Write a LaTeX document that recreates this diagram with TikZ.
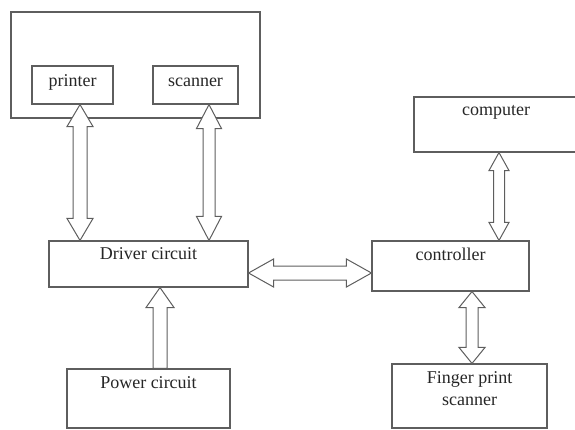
\documentclass[tikz,border=0pt]{standalone}
\usepackage{fontspec}
\setmainfont{Liberation Serif}
\usepackage{tikz}
\usetikzlibrary{positioning, calc}

\definecolor{linegray}{HTML}{5E5E5E}
\definecolor{textgray}{HTML}{262626}

% hollow two-headed arrow: start, end, head length, shaft half width, head half width
\newcommand{\blockarrow}[5]{%
  \draw[hollow] (#1)
    -- ($(#1)!#3!(#2)!#5!90:(#2)$)
    -- ($(#1)!#3!(#2)!#4!90:(#2)$)
    -- ($(#2)!#3!(#1)!#4!-90:(#1)$)
    -- ($(#2)!#3!(#1)!#5!-90:(#1)$)
    -- (#2)
    -- ($(#2)!#3!(#1)!#5!90:(#1)$)
    -- ($(#2)!#3!(#1)!#4!90:(#1)$)
    -- ($(#1)!#3!(#2)!#4!-90:(#2)$)
    -- ($(#1)!#3!(#2)!#5!-90:(#2)$)
    -- cycle;}
% hollow one-headed arrow, head at the end
\newcommand{\singlearrow}[5]{%
  \draw[hollow] ($(#1)!#4!90:(#2)$)
    -- ($(#2)!#3!(#1)!#4!-90:(#1)$)
    -- ($(#2)!#3!(#1)!#5!-90:(#1)$)
    -- (#2)
    -- ($(#2)!#3!(#1)!#5!90:(#1)$)
    -- ($(#2)!#3!(#1)!#4!90:(#1)$)
    -- ($(#1)!#4!-90:(#2)$)
    -- cycle;}

\begin{document}
\begin{tikzpicture}[
    x=1pt, y=-1pt,
    font=\fontsize{18}{22}\selectfont,
    box/.style={rectangle, draw=linegray, line width=1.1pt, inner sep=0pt},
    lbl/.style={inner sep=0pt, text=textgray, align=center},
    hollow/.style={draw=linegray, fill=white, line width=1pt, line join=miter}
]
\useasboundingbox (0,0) rectangle (575,430);

% printer / scanner unit
\node[box, minimum width=249, minimum height=106] (unit) at (135.5,65) {};
\node[box, minimum width=81, minimum height=38] (printer) at (72.5,85) {};
\node[lbl] at (printer.center) [yshift=3pt] {printer};
\node[box, minimum width=85, minimum height=38] (scanner) at (195.5,85) {};
\node[lbl] at (scanner.center) [yshift=3pt] {scanner};

% main blocks
\node[box, minimum width=199, minimum height=46,
      label={[lbl, below=7pt]north:Driver circuit}] (driver) at (148.5,264) {};
\node[box, minimum width=163, minimum height=59,
      label={[lbl, below=8pt]north:Power circuit}] (power) at (148.5,398.5) {};
\node[box, minimum width=164, minimum height=55,
      label={[lbl, below=9pt]north:computer}] (computer) at (496,124.5) {};
\node[box, minimum width=157, minimum height=50,
      label={[lbl, below=7pt]north:controller}] (controller) at (450.5,266) {};
\node[box, minimum width=155, minimum height=64,
      label={[lbl, below=8pt]north:Finger print\\scanner}] (finger) at (469.5,396) {};

% connections
\blockarrow{[xshift=7.5pt]printer.south}{[xshift=7.5pt]printer.south |- driver.north}{22pt}{7pt}{13pt}
\blockarrow{[xshift=13.5pt]scanner.south}{[xshift=13.5pt]scanner.south |- driver.north}{24pt}{6pt}{12.5pt}
\singlearrow{[xshift=11.5pt]power.north}{[xshift=11.5pt]driver.south}{20pt}{7pt}{14pt}
\blockarrow{[yshift=-9pt]driver.east}{[yshift=-9pt]driver.east -| controller.west}{25pt}{7pt}{14pt}
\blockarrow{[xshift=3pt]computer.south}{[xshift=3pt]computer.south |- controller.north}{18pt}{5.5pt}{10pt}
\blockarrow{[xshift=2.5pt]finger.north}{[xshift=2.5pt]finger.north |- controller.south}{16pt}{6pt}{13pt}

\end{tikzpicture}
\end{document}
